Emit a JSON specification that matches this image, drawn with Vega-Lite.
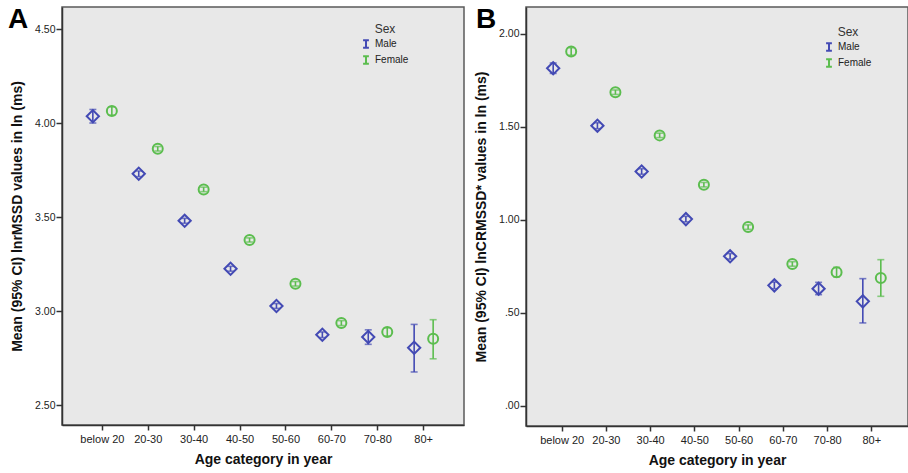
{
  "$schema": "https://vega.github.io/schema/vega-lite/v6.json",
  "background": "white",
  "padding": {"left": 7, "top": 5, "right": 0, "bottom": 0},
  "spacing": 8,
  "config": {
    "view": {"fill": "#e8e8e8", "stroke": "#5a5a5a", "strokeWidth": 1.5},
    "axis": {"grid": false, "domainColor": "#333", "domainWidth": 1.5, "tickColor": "#333", "tickWidth": 1.5, "labelColor": "#222", "titleColor": "#111", "labelFont": "Liberation Sans", "titleFont": "Liberation Sans", "titleFontWeight": "bold", "titleFontSize": 14},
    "axisX": {"labelAngle": 0, "labelFontSize": 11, "tickSize": 5, "labelPadding": 3, "titlePadding": 8},
    "axisY": {"labelFontSize": 10.5, "tickSize": 6, "labelPadding": 1, "titlePadding": 10},
    "legend": {"labelFont": "Liberation Sans", "labelFontSize": 10, "labelColor": "#222", "titleFont": "Liberation Sans", "titleFontSize": 12, "titleFontWeight": "normal", "titleColor": "#333", "titleAnchor": "middle", "rowPadding": 0, "titlePadding": 3, "padding": 0, "symbolOpacity": 1},
    "title": {"font": "Liberation Sans", "fontSize": 28, "fontWeight": "bold", "color": "black", "anchor": "start", "frame": "group", "baseline": "alphabetic"}
  },
  "data": {"values": [
    {"panel": "A", "age": "below 20", "sex": "Male", "mean": 4.036, "lo": 4.000, "hi": 4.072},
    {"panel": "A", "age": "20-30", "sex": "Male", "mean": 3.730, "lo": 3.715, "hi": 3.745},
    {"panel": "A", "age": "30-40", "sex": "Male", "mean": 3.480, "lo": 3.467, "hi": 3.493},
    {"panel": "A", "age": "40-50", "sex": "Male", "mean": 3.225, "lo": 3.212, "hi": 3.238},
    {"panel": "A", "age": "50-60", "sex": "Male", "mean": 3.027, "lo": 3.014, "hi": 3.040},
    {"panel": "A", "age": "60-70", "sex": "Male", "mean": 2.874, "lo": 2.859, "hi": 2.889},
    {"panel": "A", "age": "70-80", "sex": "Male", "mean": 2.862, "lo": 2.823, "hi": 2.900},
    {"panel": "A", "age": "80+", "sex": "Male", "mean": 2.805, "lo": 2.676, "hi": 2.929},
    {"panel": "A", "age": "below 20", "sex": "Female", "mean": 4.064, "lo": 4.042, "hi": 4.086},
    {"panel": "A", "age": "20-30", "sex": "Female", "mean": 3.863, "lo": 3.851, "hi": 3.875},
    {"panel": "A", "age": "30-40", "sex": "Female", "mean": 3.647, "lo": 3.635, "hi": 3.659},
    {"panel": "A", "age": "40-50", "sex": "Female", "mean": 3.378, "lo": 3.367, "hi": 3.389},
    {"panel": "A", "age": "50-60", "sex": "Female", "mean": 3.145, "lo": 3.133, "hi": 3.157},
    {"panel": "A", "age": "60-70", "sex": "Female", "mean": 2.936, "lo": 2.923, "hi": 2.949},
    {"panel": "A", "age": "70-80", "sex": "Female", "mean": 2.888, "lo": 2.867, "hi": 2.911},
    {"panel": "A", "age": "80+", "sex": "Female", "mean": 2.853, "lo": 2.746, "hi": 2.954},
    {"panel": "B", "age": "below 20", "sex": "Male", "mean": 1.814, "lo": 1.786, "hi": 1.842},
    {"panel": "B", "age": "20-30", "sex": "Male", "mean": 1.505, "lo": 1.489, "hi": 1.521},
    {"panel": "B", "age": "30-40", "sex": "Male", "mean": 1.259, "lo": 1.244, "hi": 1.274},
    {"panel": "B", "age": "40-50", "sex": "Male", "mean": 1.003, "lo": 0.988, "hi": 1.018},
    {"panel": "B", "age": "50-60", "sex": "Male", "mean": 0.803, "lo": 0.788, "hi": 0.818},
    {"panel": "B", "age": "60-70", "sex": "Male", "mean": 0.647, "lo": 0.629, "hi": 0.665},
    {"panel": "B", "age": "70-80", "sex": "Male", "mean": 0.629, "lo": 0.597, "hi": 0.663},
    {"panel": "B", "age": "80+", "sex": "Male", "mean": 0.561, "lo": 0.445, "hi": 0.683},
    {"panel": "B", "age": "below 20", "sex": "Female", "mean": 1.904, "lo": 1.884, "hi": 1.924},
    {"panel": "B", "age": "20-30", "sex": "Female", "mean": 1.685, "lo": 1.673, "hi": 1.697},
    {"panel": "B", "age": "30-40", "sex": "Female", "mean": 1.453, "lo": 1.441, "hi": 1.465},
    {"panel": "B", "age": "40-50", "sex": "Female", "mean": 1.188, "lo": 1.176, "hi": 1.200},
    {"panel": "B", "age": "50-60", "sex": "Female", "mean": 0.960, "lo": 0.948, "hi": 0.972},
    {"panel": "B", "age": "60-70", "sex": "Female", "mean": 0.762, "lo": 0.750, "hi": 0.774},
    {"panel": "B", "age": "70-80", "sex": "Female", "mean": 0.717, "lo": 0.692, "hi": 0.744},
    {"panel": "B", "age": "80+", "sex": "Female", "mean": 0.686, "lo": 0.588, "hi": 0.785}
  ]},
  "resolve": {"scale": {"x": "independent", "y": "independent", "xOffset": "independent", "color": "independent"}, "legend": {"color": "independent"}},
  "hconcat": [
    {
      "width": 402,
      "height": 418,
      "title": {"text": "A", "offset": -27, "dx": -54},
      "transform": [{"filter": "datum.panel === 'A'"}],
      "encoding": {
        "x": {"field": "age", "type": "nominal", "sort": ["below 20", "20-30", "30-40", "40-50", "50-60", "60-70", "70-80", "80+"], "scale": {"type": "band", "paddingInner": 0, "paddingOuter": 0.379}, "title": "Age category in year"},
        "xOffset": {"field": "sex", "type": "nominal", "scale": {"domain": ["Male", "Female"], "paddingInner": 0, "paddingOuter": 0.208}},
        "color": {"field": "sex", "type": "nominal", "scale": {"domain": ["Male", "Female"], "range": ["#434ab4", "#5bbd4e"]}, "legend": {"title": "Sex", "orient": "none", "legendX": 299, "legendY": 17, "symbolType": "M-0.75,-1H0.75M0,-1V1M-0.75,1H0.75", "symbolSize": 60, "symbolStrokeWidth": 2, "symbolFillColor": "transparent"}}
      },
      "layer": [
        {"mark": {"type": "rule", "strokeWidth": 1.6}, "encoding": {"y": {"field": "lo", "type": "quantitative", "scale": {"domain": [2.394, 4.617], "nice": false, "zero": false}, "axis": {"values": [2.5, 3, 3.5, 4, 4.5], "format": ".2f"}, "title": "Mean (95% CI) lnrMSSD values in ln (ms)"}, "y2": {"field": "hi"}}},
        {"mark": {"type": "tick", "size": 7, "thickness": 1.6}, "encoding": {"y": {"field": "lo", "type": "quantitative", "title": "Mean (95% CI) lnrMSSD values in ln (ms)"}}},
        {"mark": {"type": "tick", "size": 7, "thickness": 1.6}, "encoding": {"y": {"field": "hi", "type": "quantitative", "title": "Mean (95% CI) lnrMSSD values in ln (ms)"}}},
        {"transform": [{"filter": "datum.sex === 'Male'"}], "mark": {"type": "point", "shape": "diamond", "size": 150, "filled": false, "strokeWidth": 2, "opacity": 1}, "encoding": {"y": {"field": "mean", "type": "quantitative", "title": "Mean (95% CI) lnrMSSD values in ln (ms)"}}},
        {"transform": [{"filter": "datum.sex === 'Female'"}], "mark": {"type": "point", "shape": "circle", "size": 100, "filled": false, "strokeWidth": 2, "opacity": 1}, "encoding": {"y": {"field": "mean", "type": "quantitative", "title": "Mean (95% CI) lnrMSSD values in ln (ms)"}}}
      ]
    },
    {
      "width": 382,
      "height": 419,
      "title": {"text": "B", "offset": -27, "dx": -50},
      "transform": [{"filter": "datum.panel === 'B'"}],
      "encoding": {
        "x": {"field": "age", "type": "nominal", "sort": ["below 20", "20-30", "30-40", "40-50", "50-60", "60-70", "70-80", "80+"], "scale": {"type": "band", "paddingInner": 0, "paddingOuter": 0.318}, "title": "Age category in year"},
        "xOffset": {"field": "sex", "type": "nominal", "scale": {"domain": ["Male", "Female"], "paddingInner": 0, "paddingOuter": 0.229}},
        "color": {"field": "sex", "type": "nominal", "scale": {"domain": ["Male", "Female"], "range": ["#434ab4", "#5bbd4e"]}, "legend": {"title": "Sex", "orient": "none", "legendX": 298, "legendY": 20, "symbolType": "M-0.75,-1H0.75M0,-1V1M-0.75,1H0.75", "symbolSize": 60, "symbolStrokeWidth": 2, "symbolFillColor": "transparent"}}
      },
      "layer": [
        {"mark": {"type": "rule", "strokeWidth": 1.6}, "encoding": {"y": {"field": "lo", "type": "quantitative", "scale": {"domain": [-0.109, 2.143], "nice": false, "zero": false}, "axis": {"values": [0, 0.5, 1, 1.5, 2], "labelExpr": "datum.value < 1 ? substring(format(datum.value, '.2f'), 1) : format(datum.value, '.2f')"}, "title": "Mean (95% CI) lnCRMSSD* values in ln (ms)"}, "y2": {"field": "hi"}}},
        {"mark": {"type": "tick", "size": 7, "thickness": 1.6}, "encoding": {"y": {"field": "lo", "type": "quantitative", "title": "Mean (95% CI) lnCRMSSD* values in ln (ms)"}}},
        {"mark": {"type": "tick", "size": 7, "thickness": 1.6}, "encoding": {"y": {"field": "hi", "type": "quantitative", "title": "Mean (95% CI) lnCRMSSD* values in ln (ms)"}}},
        {"transform": [{"filter": "datum.sex === 'Male'"}], "mark": {"type": "point", "shape": "diamond", "size": 150, "filled": false, "strokeWidth": 2, "opacity": 1}, "encoding": {"y": {"field": "mean", "type": "quantitative", "title": "Mean (95% CI) lnCRMSSD* values in ln (ms)"}}},
        {"transform": [{"filter": "datum.sex === 'Female'"}], "mark": {"type": "point", "shape": "circle", "size": 100, "filled": false, "strokeWidth": 2, "opacity": 1}, "encoding": {"y": {"field": "mean", "type": "quantitative", "title": "Mean (95% CI) lnCRMSSD* values in ln (ms)"}}}
      ]
    }
  ]
}
